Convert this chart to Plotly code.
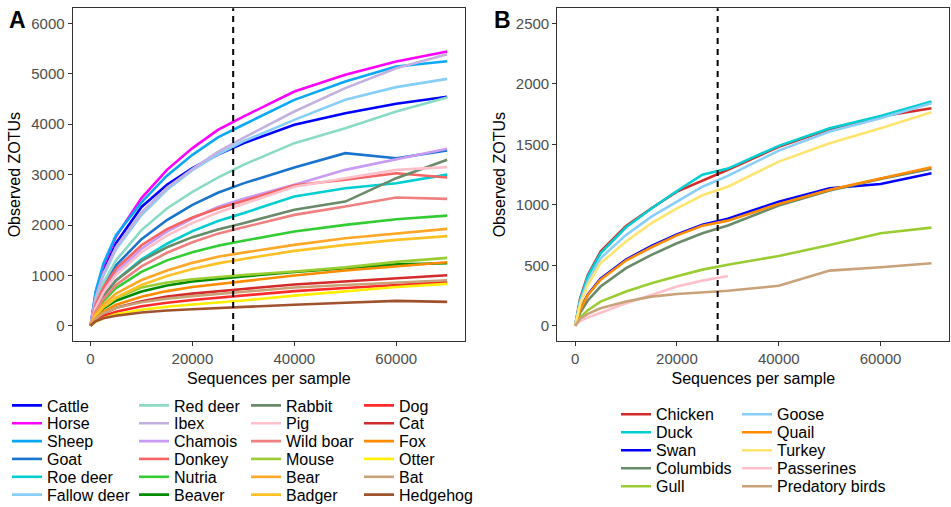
import plotly.graph_objects as go

# ---------------- data ----------------
SEQ = [1, 1000, 2500, 5000, 10000, 15000, 20000, 25000, 30000, 40000, 50000, 60000, 70000]
CUTOFF = 28000

mammals = ["Cattle", "Horse", "Sheep", "Goat", "Roe deer", "Fallow deer",
           "Red deer", "Ibex", "Chamois", "Donkey", "Nutria", "Beaver",
           "Rabbit", "Pig", "Wild boar", "Mouse", "Bear", "Badger",
           "Dog", "Cat", "Fox", "Otter", "Bat", "Hedgehog"]

cattle     = [1, 580, 1080, 1640, 2360, 2800, 3130, 3400, 3623, 3988, 4220, 4405, 4544]
horse      = [1, 650, 1180, 1772, 2534, 3095, 3526, 3889, 4152, 4649, 4980, 5244, 5442]
sheep      = [1, 680, 1230, 1800, 2450, 2980, 3393, 3740, 3990, 4484, 4847, 5145, 5250]
goat       = [1, 430, 790, 1200, 1720, 2100, 2400, 2640, 2827, 3141, 3426, 3327, 3478]
roe_deer   = [1, 320, 590, 900, 1320, 1630, 1880, 2080, 2235, 2566, 2731, 2831, 3000]
fallow     = [1, 540, 990, 1520, 2200, 2700, 3090, 3400, 3662, 4087, 4484, 4736, 4900]
red_deer   = [1, 470, 850, 1300, 1900, 2330, 2660, 2940, 3195, 3625, 3922, 4252, 4530]
ibex       = [1, 560, 1030, 1560, 2250, 2740, 3110, 3450, 3729, 4252, 4716, 5112, 5390]
chamois    = [1, 380, 690, 1060, 1530, 1870, 2130, 2360, 2521, 2798, 3095, 3307, 3512]
donkey     = [1, 420, 760, 1130, 1600, 1920, 2150, 2330, 2475, 2790, 2900, 3029, 2942]
nutria     = [1, 270, 490, 750, 1070, 1300, 1460, 1590, 1689, 1871, 2004, 2116, 2188]
beaver     = [1, 180, 340, 500, 680, 800, 880, 935, 980, 1070, 1150, 1220, 1243]
rabbit     = [1, 330, 600, 900, 1290, 1560, 1760, 1910, 2037, 2302, 2466, 2930, 3294]
pig        = [1, 360, 660, 1010, 1460, 1790, 2040, 2250, 2418, 2760, 2930, 3095, 3149]
wild_boar  = [1, 290, 530, 810, 1180, 1450, 1660, 1830, 1955, 2202, 2367, 2546, 2520]
mouse      = [1, 200, 370, 550, 760, 860, 925, 970, 1010, 1080, 1160, 1270, 1349]
bear       = [1, 230, 420, 640, 910, 1100, 1250, 1370, 1453, 1607, 1739, 1839, 1925]
badger     = [1, 200, 370, 560, 810, 990, 1130, 1240, 1328, 1488, 1607, 1706, 1780]
dog        = [1, 100, 190, 280, 390, 460, 515, 560, 600, 690, 750, 810, 867]
cat        = [1, 130, 240, 360, 490, 580, 640, 690, 732, 820, 880, 950, 1005]
fox        = [1, 150, 280, 420, 580, 690, 770, 830, 883, 1000, 1100, 1180, 1263]
otter      = [1, 80, 150, 230, 320, 380, 425, 462, 502, 600, 690, 770, 833]
bat        = [1, 140, 250, 360, 470, 540, 590, 630, 667, 760, 810, 860, 906]
hedgehog   = [1, 90, 150, 200, 264, 305, 331, 356, 380, 420, 460, 495, 476]

mammal_values = [cattle, horse, sheep, goat, roe_deer, fallow, red_deer, ibex,
                 chamois, donkey, nutria, beaver, rabbit, pig, wild_boar, mouse,
                 bear, badger, dog, cat, fox, otter, bat, hedgehog]

mammal_colors = ["#0000FF", "#FF00FF", "#0AA8F5", "#1874CD", "#00CED1", "#87CEFA",
                 "#8ADBC5", "#C3B1E1", "#C89BF5", "#F86464", "#32CD32", "#008B00",
                 "#698B69", "#FFC0CB", "#F08080", "#9ACD32", "#FFA726", "#FFC125",
                 "#FF2A2A", "#D42A2A", "#FF8C00", "#FFEE00", "#C9A27A", "#A0522D"]

birds = ["Chicken", "Duck", "Swan", "Columbids", "Gull",
         "Goose", "Quail", "Turkey", "Passerines", "Predatory birds"]

chicken    = [1, 230, 420, 614, 826, 972, 1110, 1200, 1290, 1480, 1625, 1730, 1799]
duck       = [1, 220, 410, 600, 815, 970, 1115, 1250, 1300, 1488, 1634, 1735, 1854]
swan       = [1, 140, 260, 390, 548, 660, 755, 835, 885, 1027, 1138, 1173, 1262]
columbids  = [1, 110, 210, 325, 477, 587, 683, 766, 830, 994, 1120, 1215, 1298]
gull       = [1, 70, 130, 201, 284, 353, 410, 465, 505, 578, 669, 766, 812]
goose      = [1, 200, 370, 559, 752, 903, 1027, 1150, 1240, 1449, 1606, 1716, 1840]
quail      = [1, 135, 255, 382, 540, 650, 748, 828, 870, 1008, 1125, 1220, 1311]
turkey     = [1, 180, 340, 518, 697, 849, 972, 1080, 1150, 1358, 1510, 1634, 1766]
passerines = [1, 40, 70, 110, 187, 256, 325, 374, 413, None, None, None, None]
predatory  = [1, 60, 100, 146, 201, 242, 264, 277, 290, 331, 457, 485, 518]

bird_values = [chicken, duck, swan, columbids, gull, goose, quail, turkey,
               passerines, predatory]

bird_colors = ["#D42A2A", "#00CED1", "#0000FF", "#698B69", "#9ACD32",
               "#87CEFA", "#FF8C00", "#FFE46E", "#FFC0CB", "#C9A27A"]

# ---------------- figure ----------------
W, H = 951, 507
FONT = "Liberation Sans, Arial, Helvetica, sans-serif"

fig = go.Figure()
legend_layouts = {}
leg_idx = 0


def legend_key(i):
    return "legend" if i == 0 else f"legend{i + 1}"


def legend_box(text_x, row_y):
    return dict(x=(text_x - 40) / W, y=1 - row_y / H,
                xanchor="left", yanchor="middle",
                bgcolor="rgba(0,0,0,0)", borderwidth=0,
                font=dict(size=16, color="black", family=FONT))


# Panel A legend grid (column-major, 6 rows)
A_text_x = [47, 174, 286, 399]
A_row_y = [405.5, 423.3, 441.2, 459.0, 476.9, 494.7]
for i, (name, vals, col) in enumerate(zip(mammals, mammal_values, mammal_colors)):
    key = legend_key(leg_idx)
    fig.add_trace(go.Scatter(x=SEQ, y=vals, mode="lines", name=name,
                             line=dict(color=col, width=2.6),
                             xaxis="x", yaxis="y", legend=key, showlegend=True))
    c, r = divmod(i, 6)
    legend_layouts[key] = legend_box(A_text_x[c], A_row_y[r])
    leg_idx += 1

B_text_x = [656, 777]
B_row_y = [414.3, 432.3, 450.3, 468.3, 486.3]
for i, (name, vals, col) in enumerate(zip(birds, bird_values, bird_colors)):
    key = legend_key(leg_idx)
    fig.add_trace(go.Scatter(x=SEQ, y=vals, mode="lines", name=name,
                             line=dict(color=col, width=2.6),
                             xaxis="x2", yaxis="y2", legend=key,
                             connectgaps=False, showlegend=True))
    c, r = divmod(i, 5)
    legend_layouts[key] = legend_box(B_text_x[c], B_row_y[r])
    leg_idx += 1

axis_common = dict(showgrid=False, zeroline=False, showline=True, mirror=True,
                   linecolor="#333333", linewidth=1.2, ticks="outside",
                   ticklen=4, tickwidth=1.1, tickcolor="#333333",
                   tickfont=dict(size=15, color="#4D4D4D", family=FONT),
                   tickformat="d", automargin=False)

top_px, bot_px = 8.3, 341.0
ydom = [1 - bot_px / H, 1 - top_px / H]

fig.update_layout(
    width=W, height=H,
    margin=dict(l=0, r=0, t=0, b=0, autoexpand=False),
    paper_bgcolor="white", plot_bgcolor="white",
    font=dict(family=FONT, color="black"),
    showlegend=True,
    xaxis=dict(axis_common, domain=[72.7 / W, 465.0 / W], range=[-3500, 73500],
               tickvals=[0, 20000, 40000, 60000], anchor="y",
               title=dict(text="Sequences per sample", font=dict(size=16, color="black"), standoff=6)),
    yaxis=dict(axis_common, domain=ydom, range=[-300, 6300],
               tickvals=[0, 1000, 2000, 3000, 4000, 5000, 6000], anchor="x",
               title=dict(text="Observed ZOTUs", font=dict(size=16, color="black"), standoff=6)),
    xaxis2=dict(axis_common, domain=[557.3 / W, 949.3 / W], range=[-3500, 73500],
                tickvals=[0, 20000, 40000, 60000], anchor="y2",
                title=dict(text="Sequences per sample", font=dict(size=16, color="black"), standoff=6)),
    yaxis2=dict(axis_common, domain=ydom, range=[-125, 2625],
                tickvals=[0, 500, 1000, 1500, 2000, 2500], anchor="x2",
                title=dict(text="Observed ZOTUs", font=dict(size=16, color="black"), standoff=6)),
    shapes=[
        dict(type="line", xref="x", yref="y domain", x0=CUTOFF, x1=CUTOFF, y0=0, y1=1,
             line=dict(color="black", width=2, dash="6px,5px")),
        dict(type="line", xref="x2", yref="y2 domain", x0=CUTOFF, x1=CUTOFF, y0=0, y1=1,
             line=dict(color="black", width=2, dash="6px,5px")),
    ],
    annotations=[
        dict(text="<b>A</b>", xref="paper", yref="paper", x=7 / W, y=1 - 20 / H,
             xanchor="left", yanchor="middle", showarrow=False,
             font=dict(size=23, color="black", family=FONT)),
        dict(text="<b>B</b>", xref="paper", yref="paper", x=492 / W, y=1 - 20 / H,
             xanchor="left", yanchor="middle", showarrow=False,
             font=dict(size=23, color="black", family=FONT)),
    ],
    **legend_layouts,
)

fig.write_html("out.html",
               config=dict(displayModeBar=False),
               post_script="document.body.style.margin='0';document.body.style.overflow='hidden';")
